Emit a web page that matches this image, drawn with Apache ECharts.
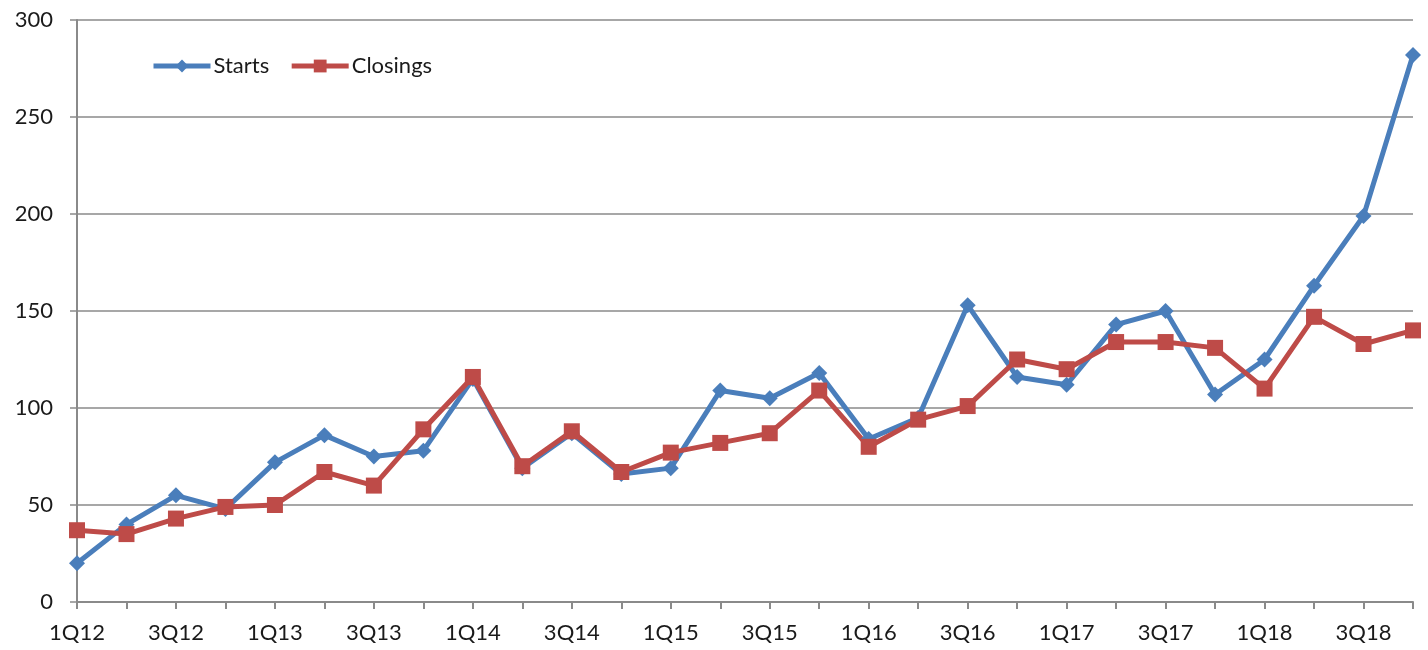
<!DOCTYPE html>
<html>
<head>
<meta charset="utf-8">
<script src="https://cdn.jsdelivr.net/npm/echarts@6/dist/echarts.min.js"></script>
<style>
html,body{margin:0;padding:0;background:#fff;}
#chart{width:1428px;height:650px;}
</style>
</head>
<body>
<div id="chart"></div>
<script>
const categories = [
  '1Q12','2Q12','3Q12','4Q12',
  '1Q13','2Q13','3Q13','4Q13',
  '1Q14','2Q14','3Q14','4Q14',
  '1Q15','2Q15','3Q15','4Q15',
  '1Q16','2Q16','3Q16','4Q16',
  '1Q17','2Q17','3Q17','4Q17',
  '1Q18','2Q18','3Q18','4Q18'
];
const starts = [
  20, 40, 55, 48,
  72, 86, 75, 78,
  115, 69, 87, 66,
  69, 109, 105, 118,
  84, 95, 153, 116,
  112, 143, 150, 107,
  125, 163, 199, 282
];
const closings = [
  37, 35, 43, 49,
  50, 67, 60, 89,
  116, 70, 88, 67,
  77, 82, 87, 109,
  80, 94, 101, 125,
  120, 134, 134, 131,
  110, 147, 133, 140
];
const yTicks = { min: 0, max: 300, interval: 50 };

const chart = echarts.init(document.getElementById('chart'), null, { renderer: 'canvas' });
const font = 'Lato';
const textColor = '#1a1a1a';
const gridColor = '#8a8a8a';

chart.setOption({
  animation: false,
  backgroundColor: '#ffffff',
  grid: { left: 77, right: 15, top: 20, bottom: 48, containLabel: false },
  legend: {
    left: 146,
    top: 50,
    itemWidth: 57,
    itemHeight: 16,
    itemGap: 20,
    lineStyle: { width: 5 },
    textStyle: { fontFamily: font, fontSize: 22, color: textColor, padding: [0, 0, 0, -2] },
    data: ['Starts', 'Closings']
  },
  xAxis: {
    type: 'category',
    data: categories,
    boundaryGap: false,
    axisLine: { show: true, lineStyle: { color: gridColor, width: 2 } },
    axisTick: { show: true, interval: 0, length: 7, lineStyle: { color: gridColor, width: 2 } },
    axisLabel: { interval: 1, margin: 20, fontFamily: font, fontSize: 22, color: textColor },
    splitLine: { show: false }
  },
  yAxis: {
    type: 'value',
    min: yTicks.min,
    max: yTicks.max,
    interval: yTicks.interval,
    axisLine: { show: true, lineStyle: { color: gridColor, width: 2 } },
    axisTick: { show: true, length: 7, lineStyle: { color: gridColor, width: 1.5 } },
    axisLabel: { margin: 24, fontFamily: font, fontSize: 22, color: textColor },
    splitLine: { show: true, lineStyle: { color: gridColor, width: 1.5 } }
  },
  series: [
    {
      name: 'Starts',
      type: 'line',
      data: starts,
      symbol: 'diamond',
      symbolSize: 16,
      lineStyle: { color: '#4a7ebb', width: 5 },
      itemStyle: { color: '#4a7ebb' }
    },
    {
      name: 'Closings',
      type: 'line',
      data: closings,
      symbol: 'rect',
      symbolSize: 16,
      lineStyle: { color: '#be4b48', width: 5 },
      itemStyle: { color: '#be4b48' }
    }
  ]
});
</script>
</body>
</html>
